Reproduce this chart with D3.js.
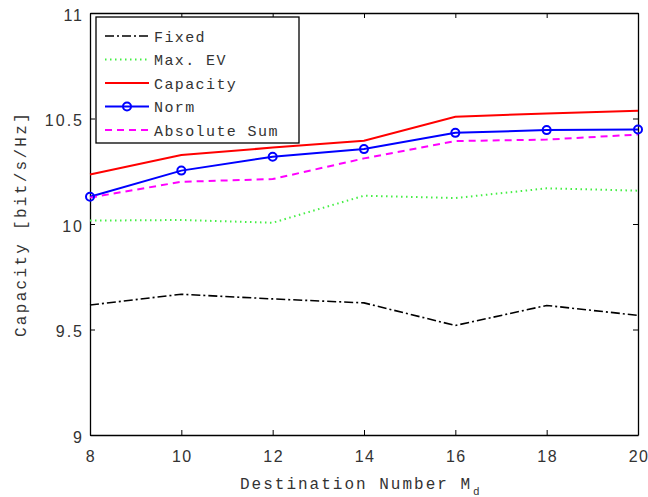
<!DOCTYPE html>
<html>
<head>
<meta charset="utf-8">
<script src="https://cdn.jsdelivr.net/npm/d3@7"></script>
<style>
  body { margin: 0; background: #fff; }
  svg { display: block; font-family: "Liberation Mono", "DejaVu Sans Mono", monospace; }
  .axis text { fill: #333; font-size: 16px; letter-spacing: 2px; }
  .axis--x text { letter-spacing: 1.4px; }
  .axis path, .axis line { stroke: #000; }
</style>
</head>
<body>
<div id="chart"></div>
<script>
const destinations = [8, 10, 12, 14, 16, 18, 20];
const fixed = [9.616, 9.667, 9.645, 9.626, 9.519, 9.614, 9.567];
const maxEV = [10.016, 10.019, 10.006, 10.134, 10.123, 10.169, 10.158];
const capacity = [10.235, 10.327, 10.362, 10.395, 10.508, 10.524, 10.537];
const norm = [10.129, 10.253, 10.319, 10.355, 10.432, 10.445, 10.448];
const absSum = [10.125, 10.200, 10.213, 10.311, 10.393, 10.400, 10.424];
const yTicks = [9, 9.5, 10, 10.5, 11];

const series = [
  { id: "fixed", label: "Fixed", values: fixed, color: "#000", dash: "9,3,2,3", width: 1.6 },
  { id: "maxev", label: "Max. EV", values: maxEV, color: "#44ee44", dash: "1.5,3.5", width: 2 },
  { id: "capacity", label: "Capacity", values: capacity, color: "#ff0000", dash: null, width: 2 },
  { id: "norm", label: "Norm", values: norm, color: "#0000ff", dash: null, width: 2, marker: true },
  { id: "abssum", label: "Absolute Sum", values: absSum, color: "#ff00ff", dash: "7,5", width: 2 },
];

const width = 648, height = 497;
const margin = { top: 13, right: 10, bottom: 62, left: 90 };

const x = d3.scaleLinear().domain([8, 20]).range([margin.left, width - margin.right]);
const y = d3.scaleLinear().domain([9, 11]).range([height - margin.bottom, margin.top]);

const svg = d3.select("#chart").append("svg")
  .attr("width", width).attr("height", height)
  .attr("viewBox", [0, 0, width, height]);

// inward ticks on all four sides, box-style axes
svg.append("g").attr("class", "axis axis--x")
  .attr("transform", `translate(0,${y.range()[0]})`)
  .call(d3.axisBottom(x).tickValues(destinations).tickSize(-5).tickSizeOuter(0).tickPadding(16).tickFormat(d3.format("d")))
  .selectAll("text").attr("dx", 0.5);
svg.append("g").attr("class", "axis")
  .attr("transform", `translate(0,${y.range()[1]})`)
  .call(d3.axisTop(x).tickValues(destinations).tickSize(-5).tickSizeOuter(0).tickFormat(""));
svg.append("g").attr("class", "axis")
  .attr("transform", `translate(${x.range()[0]},0)`)
  .call(d3.axisLeft(y).tickValues(yTicks).tickSize(-5).tickSizeOuter(0).tickPadding(6).tickFormat(d3.format("")))
  .selectAll("text").attr("dy", "0.45em");
svg.append("g").attr("class", "axis")
  .attr("transform", `translate(${x.range()[1]},0)`)
  .call(d3.axisRight(y).tickValues(yTicks).tickSize(-5).tickSizeOuter(0).tickFormat(""));

svg.selectAll(".axis path").attr("stroke-width", 1.3);

const line = d3.line()
  .x((d, i) => x(destinations[i]))
  .y((d) => y(d));

const gLines = svg.append("g");
gLines.selectAll("path")
  .data(series)
  .join("path")
  .attr("fill", "none")
  .attr("stroke", (d) => d.color)
  .attr("stroke-width", (d) => d.width)
  .attr("stroke-dasharray", (d) => d.dash)
  .attr("d", (d) => line(d.values));

const normSeries = series.find((d) => d.marker);
gLines.selectAll("circle")
  .data(normSeries.values)
  .join("circle")
  .attr("cx", (d, i) => x(destinations[i]))
  .attr("cy", (d) => y(d))
  .attr("r", 4)
  .attr("fill", "none")
  .attr("stroke", normSeries.color)
  .attr("stroke-width", 2);

// legend
const legend = svg.append("g").attr("transform", "translate(96,17)");
legend.append("rect")
  .attr("width", 203).attr("height", 126)
  .attr("fill", "#fff").attr("stroke", "#000").attr("stroke-width", 1.3);
const rows = legend.selectAll(".row")
  .data(series)
  .join("g")
  .attr("class", "row")
  .attr("transform", (d, i) => `translate(0,${19 + i * 23.5})`);
rows.append("line")
  .attr("x1", 9).attr("x2", 53)
  .attr("stroke", (d) => d.color)
  .attr("stroke-width", (d) => d.width)
  .attr("stroke-dasharray", (d) => d.dash);
rows.filter((d) => d.marker).append("circle")
  .attr("cx", 31).attr("r", 4)
  .attr("fill", "none").attr("stroke", (d) => d.color).attr("stroke-width", 2);
rows.append("text")
  .attr("x", 58).attr("dy", "0.38em")
  .attr("fill", "#333").attr("font-size", 15).attr("letter-spacing", 1.4)
  .text((d) => d.label);

// axis titles
svg.append("text")
  .attr("transform", `translate(26,${(y.range()[0] + y.range()[1]) / 2}) rotate(-90)`)
  .attr("text-anchor", "middle")
  .attr("fill", "#333").attr("font-size", 16).attr("letter-spacing", 2.3)
  .text("Capacity [bit/s/Hz]");

const xTitle = svg.append("text")
  .attr("x", 240).attr("y", 489)
  .attr("fill", "#333").attr("font-size", 16).attr("letter-spacing", 2);
xTitle.append("tspan").text("Destination Number M");
xTitle.append("tspan").attr("dy", 6).attr("dx", 1).attr("font-size", 11).text("d");
</script>
</body>
</html>
